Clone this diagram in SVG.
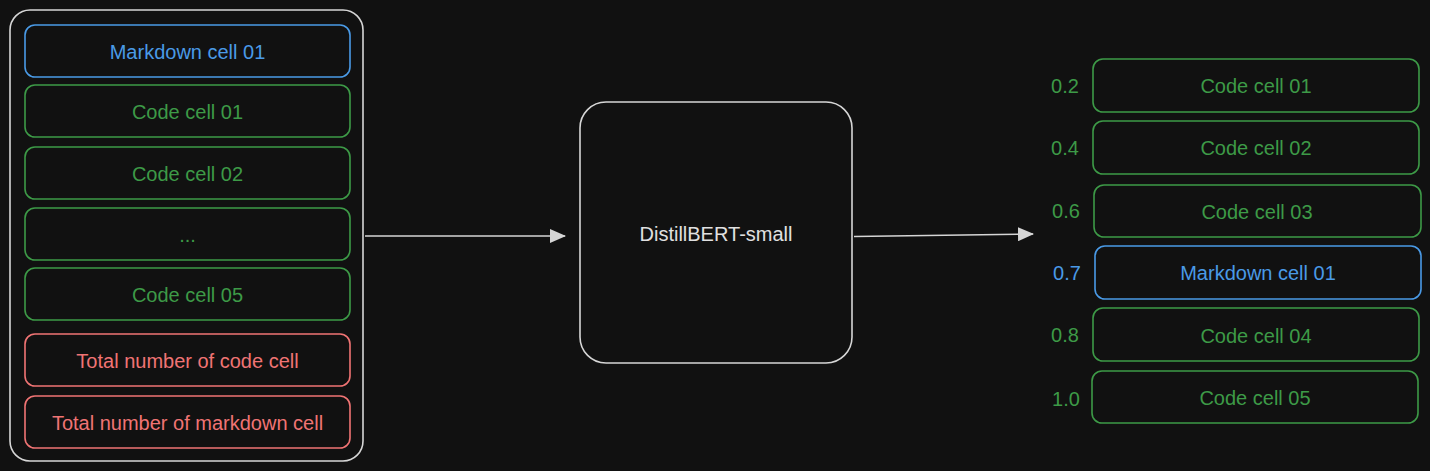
<svg xmlns="http://www.w3.org/2000/svg" width="1430" height="471" viewBox="0 0 1430 471">
<style>
text{font-family:"Liberation Sans",Arial,sans-serif;font-size:20px;text-anchor:middle;dominant-baseline:central}
.g rect{fill:none;stroke:#3d9a47;stroke-width:1.6}
.g text{fill:#3d9a47}
.b rect{fill:none;stroke:#4a9ae6;stroke-width:1.6}
.b text{fill:#4a9ae6}
.r rect{fill:none;stroke:#f07474;stroke-width:1.6}
.r text{fill:#f07474}
.w rect{fill:none;stroke:#d6d6d6;stroke-width:1.6}
.w text{fill:#e0e0e0}
.edge{stroke:#d6d6d6;stroke-width:1.6;fill:none}
</style>
<defs>
<marker id="ah" markerWidth="16" markerHeight="14" refX="15" refY="7" orient="auto" markerUnits="userSpaceOnUse">
<path d="M0,0 L16,7 L0,14 Z" fill="#d6d6d6"/>
</marker>
</defs>
<rect x="0" y="0" width="1430" height="471" fill="#111111"/>
<g id="input-container" class="w"><rect x="10" y="10" width="353" height="451" rx="20"/></g>
<g id="in-md01" class="b"><rect x="25" y="25" width="325" height="52" rx="10"/><text x="187.5" y="52">Markdown cell 01</text></g>
<g id="in-code01" class="g"><rect x="25" y="85" width="325" height="52" rx="10"/><text x="187.5" y="112">Code cell 01</text></g>
<g id="in-code02" class="g"><rect x="25" y="147" width="325" height="52" rx="10"/><text x="187.5" y="174">Code cell 02</text></g>
<g id="in-dots" class="g"><rect x="25" y="208" width="325" height="52" rx="10"/><text x="187.5" y="235">...</text></g>
<g id="in-code05" class="g"><rect x="25" y="268" width="325" height="52" rx="10"/><text x="187.5" y="295">Code cell 05</text></g>
<g id="in-total-code" class="r"><rect x="25" y="334" width="325" height="52" rx="10"/><text x="187.5" y="361">Total number of code cell</text></g>
<g id="in-total-md" class="r"><rect x="25" y="396" width="325" height="52" rx="10"/><text x="187.5" y="423">Total number of markdown cell</text></g>
<g id="model" class="w"><rect x="580" y="102" width="272" height="261" rx="26"/><text x="716" y="234">DistillBERT-small</text></g>
<g id="out-code01" class="g"><text x="1065" y="86">0.2</text><rect x="1093" y="59" width="326" height="53" rx="10"/><text x="1256" y="86">Code cell 01</text></g>
<g id="out-code02" class="g"><text x="1065" y="148">0.4</text><rect x="1093" y="121" width="326" height="53" rx="10"/><text x="1256" y="148">Code cell 02</text></g>
<g id="out-code03" class="g"><text x="1066" y="211">0.6</text><rect x="1094" y="185" width="327" height="52" rx="10"/><text x="1257" y="212">Code cell 03</text></g>
<g id="out-md01" class="b"><text x="1067" y="273">0.7</text><rect x="1095" y="246" width="326" height="53" rx="10"/><text x="1258" y="273">Markdown cell 01</text></g>
<g id="out-code04" class="g"><text x="1065" y="335">0.8</text><rect x="1093" y="308" width="326" height="53" rx="10"/><text x="1256" y="336">Code cell 04</text></g>
<g id="out-code05" class="g"><text x="1066" y="399">1.0</text><rect x="1092" y="371" width="326" height="52" rx="10"/><text x="1255" y="398">Code cell 05</text></g>
<g id="connectors">
<path class="edge" d="M365,236 L565,236" marker-end="url(#ah)"/>
<path class="edge" d="M854,236.5 L1033,234" marker-end="url(#ah)"/>
</g>
</svg>
